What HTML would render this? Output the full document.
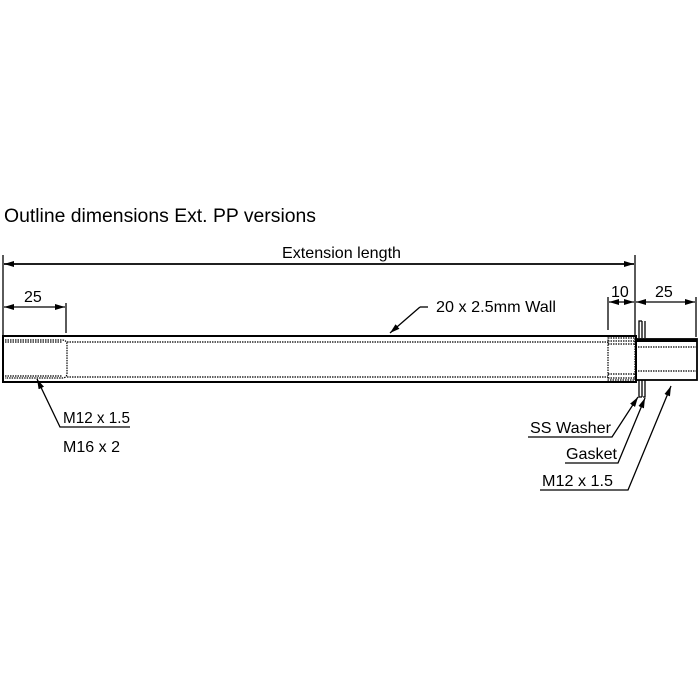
<!DOCTYPE html>
<html><head><style>body{margin:0;background:#fff}svg{display:block}</style></head><body>
<svg width="700" height="700" xmlns="http://www.w3.org/2000/svg" font-family="Liberation Sans, sans-serif" fill="#000">
<defs><marker id="a" viewBox="0 0 10 6" refX="10" refY="3" markerWidth="10" markerHeight="6" orient="auto-start-reverse" markerUnits="userSpaceOnUse"><path d="M0,0 L10,3 L0,6 z"/></marker></defs>
<text x="4" y="222" font-size="19.5" textLength="312" lengthAdjust="spacingAndGlyphs">Outline dimensions Ext. PP versions</text>
<g stroke="#000" stroke-width="1.3" fill="none">
<line x1="3" y1="255" x2="3" y2="336"/>
<line x1="635" y1="255" x2="635" y2="336"/>
<line x1="4" y1="264" x2="634" y2="264" marker-start="url(#a)" marker-end="url(#a)" stroke-width="1.8"/>
<line x1="66" y1="303" x2="66" y2="333"/>
<line x1="4" y1="307" x2="65" y2="307" marker-start="url(#a)" marker-end="url(#a)"/>
<line x1="608" y1="297" x2="608" y2="330"/>
<line x1="696" y1="297" x2="696" y2="337"/>
<line x1="609" y1="302" x2="634" y2="302" marker-start="url(#a)" marker-end="url(#a)"/>
<line x1="636" y1="302" x2="695" y2="302" marker-start="url(#a)" marker-end="url(#a)"/>
<rect x="3" y="336" width="633" height="46" stroke-width="2"/>
<rect x="636" y="339" width="61" height="41" stroke-width="1.8"/>
<line x1="636" y1="340.5" x2="697" y2="340.5" stroke-width="3"/>
<g stroke-dasharray="1.5 1" stroke-width="1.2">
<line x1="67" y1="342" x2="608" y2="342"/><line x1="67" y1="377" x2="608" y2="377"/>
<path d="M5,340 H62 Q67,340 67,345 V373 Q67,378 62,378 H5"/>
<line x1="5" y1="342" x2="62" y2="342"/><line x1="5" y1="376" x2="62" y2="376"/>
<rect x="608" y="338" width="27" height="42"/>
<line x1="608" y1="341" x2="635" y2="341"/><line x1="608" y1="344" x2="635" y2="344"/>
<line x1="608" y1="374" x2="635" y2="374"/><line x1="608" y1="378" x2="635" y2="378"/>
<line x1="638" y1="347" x2="696" y2="347"/><line x1="638" y1="371" x2="696" y2="371"/>
</g>
<path d="M639,338 V321 H642 M642,338 V321 M645,338 V321 M639,380 V397 H642 M642,380 V397 M645,380 V397 H643"/>
<line x1="428" y1="307" x2="420" y2="307"/>
<line x1="420" y1="307" x2="390" y2="333" marker-end="url(#a)"/>
<path d="M130,427 H60 L37,379" marker-end="url(#a)"/>
<path d="M528,437 H612 L638,397" marker-end="url(#a)"/>
<path d="M565,463 H618 L645,398" marker-end="url(#a)"/>
<path d="M540,490 H628 L671,386" marker-end="url(#a)"/>
</g>
<g font-size="16">
<text x="282" y="258" textLength="119" lengthAdjust="spacingAndGlyphs">Extension length</text>
<text x="24" y="302">25</text>
<text x="611" y="297">10</text>
<text x="655" y="297">25</text>
<text x="436" y="312" textLength="120" lengthAdjust="spacingAndGlyphs">20 x 2.5mm Wall</text>
<text x="63" y="423" textLength="67" lengthAdjust="spacingAndGlyphs">M12 x 1.5</text>
<text x="63" y="452" textLength="57" lengthAdjust="spacingAndGlyphs">M16 x 2</text>
<text x="530" y="433" textLength="81" lengthAdjust="spacingAndGlyphs">SS Washer</text>
<text x="566" y="459" textLength="51" lengthAdjust="spacingAndGlyphs">Gasket</text>
<text x="542" y="486" textLength="71" lengthAdjust="spacingAndGlyphs">M12 x 1.5</text>
</g>
</svg>
</body></html>
